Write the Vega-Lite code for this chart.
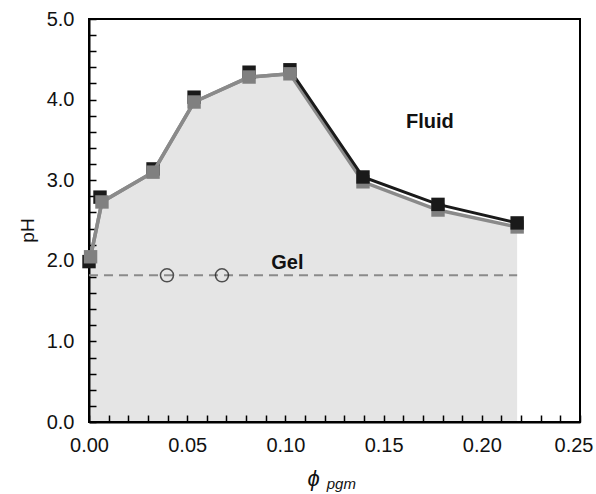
{
  "$schema": "https://vega.github.io/schema/vega-lite/v6.json",
  "width": 491,
  "height": 403,
  "autosize": {"type": "none"},
  "padding": {"left": 89, "top": 19, "right": 16, "bottom": 72},
  "background": "white",
  "config": {
    "view": {"stroke": "#000", "strokeWidth": 2},
    "axis": {
      "domainColor": "#000", "domainWidth": 2,
      "tickColor": "#000", "tickWidth": 1.5,
      "labelFont": "Liberation Sans", "labelFontSize": 20, "labelColor": "#111",
      "titleFont": "Liberation Sans", "titleColor": "#111", "titleFontWeight": "normal",
      "grid": false
    }
  },
  "datasets": {
    "pts": [
      {"phi": 0.0008, "pH": 2.05, "series": "grey"},
      {"phi": 0.0066, "pH": 2.73, "series": "grey"},
      {"phi": 0.0326, "pH": 3.10, "series": "grey"},
      {"phi": 0.0535, "pH": 3.97, "series": "grey"},
      {"phi": 0.0815, "pH": 4.28, "series": "grey"},
      {"phi": 0.1023, "pH": 4.32, "series": "grey"},
      {"phi": 0.1395, "pH": 2.98, "series": "grey"},
      {"phi": 0.1777, "pH": 2.63, "series": "grey"},
      {"phi": 0.2180, "pH": 2.42, "series": "grey"},
      {"phi": 0.0, "pH": 1.99, "series": "black"},
      {"phi": 0.0056, "pH": 2.79, "series": "black"},
      {"phi": 0.0326, "pH": 3.14, "series": "black"},
      {"phi": 0.0535, "pH": 4.03, "series": "black"},
      {"phi": 0.0815, "pH": 4.34, "series": "black"},
      {"phi": 0.1023, "pH": 4.37, "series": "black"},
      {"phi": 0.1395, "pH": 3.04, "series": "black"},
      {"phi": 0.1777, "pH": 2.70, "series": "black"},
      {"phi": 0.2180, "pH": 2.47, "series": "black"}
    ],
    "gel": [
      {"phi": 0.0397, "pH": 1.82},
      {"phi": 0.0677, "pH": 1.82}
    ],
    "gelline": [{"phi0": 0.0, "phi1": 0.218, "pH": 1.82}],
    "labels": [
      {"phi": 0.101, "pH": 1.97, "label": "Gel"},
      {"phi": 0.1736, "pH": 3.72, "label": "Fluid"}
    ],
    "sub": [{"phi": 0.1285, "pH": -0.77, "label": "pgm"}]
  },
  "encoding": {
    "x": {
      "field": "phi", "type": "quantitative",
      "scale": {"domain": [0, 0.25], "nice": false, "zero": false},
      "axis": {
        "values": [0,0.01,0.02,0.03,0.04,0.05,0.06,0.07,0.08,0.09,0.1,0.11,0.12,0.13,0.14,0.15,0.16,0.17,0.18,0.19,0.2,0.21,0.22,0.23,0.24,0.25],
        "format": ".2f",
        "labelExpr": "abs(datum.value*20 - round(datum.value*20)) < 0.001 ? datum.label : ''",
        "tickSize": -7,
        "labelPadding": 20,
        "labelAlign": {"condition": {"test": "datum.value > 0.245", "value": "right"}, "value": "center"},
        "labelOffset": {"condition": {"test": "datum.value > 0.245", "value": 13}, "value": 0},
        "labelFlush": false,
        "labelOverlap": false,
        "title": "ϕ",
        "titleFontStyle": "italic",
        "titleFontSize": 22,
        "titleX": 224,
        "titleY": 56,
        "titleBaseline": "middle"
      }
    },
    "y": {
      "field": "pH", "type": "quantitative",
      "scale": {"domain": [0, 5], "nice": false},
      "axis": {
        "values": [0,0.2,0.4,0.6,0.8,1,1.2,1.4,1.6,1.8,2,2.2,2.4,2.6,2.8,3,3.2,3.4,3.6,3.8,4,4.2,4.4,4.6,4.8,5],
        "format": ".1f",
        "labelExpr": "abs(datum.value - round(datum.value)) < 0.001 ? datum.label : ''",
        "tickSize": -7,
        "labelPadding": 22,
        "labelFlush": false,
        "labelOverlap": false,
        "title": "pH",
        "titleFontSize": 19,
        "titlePadding": 9,
        "titleY": 211
      }
    }
  },
  "layer": [
    {
      "data": {"name": "pts"},
      "transform": [{"filter": "datum.series === 'grey'"}],
      "mark": {"type": "area", "color": "#000000", "fillOpacity": 0.1, "opacity": 1},
      "encoding": {}
    },
    {
      "data": {"name": "gelline"},
      "mark": {"type": "rule", "color": "#8a8a8a", "strokeWidth": 2, "strokeDash": [9, 6]},
      "encoding": {
        "x": {"field": "phi0", "type": "quantitative"},
        "x2": {"field": "phi1"},
        "y": {"field": "pH", "type": "quantitative"}
      }
    },
    {
      "data": {"name": "gel"},
      "mark": {"type": "point", "shape": "circle", "filled": false, "stroke": "#111", "strokeWidth": 1.5, "size": 170}
    },
    {
      "data": {"name": "pts"},
      "transform": [{"filter": "datum.series === 'grey'"}],
      "mark": {"type": "line", "color": "#8a8a8a", "strokeWidth": 3.5},
      "encoding": {}
    },
    {
      "data": {"name": "pts"},
      "transform": [{"filter": "datum.series === 'grey' && datum.phi > 0.105"}],
      "mark": {"type": "square", "color": "#808080", "opacity": 1, "size": 180},
      "encoding": {}
    },
    {
      "data": {"name": "pts"},
      "transform": [{"filter": "datum.series === 'black' && datum.phi > 0.1"}],
      "mark": {"type": "line", "color": "#1a1a1a", "strokeWidth": 3},
      "encoding": {}
    },
    {
      "data": {"name": "pts"},
      "transform": [{"filter": "datum.series === 'black'"}],
      "mark": {"type": "square", "color": "#1a1a1a", "opacity": 1, "size": 180},
      "encoding": {}
    },
    {
      "data": {"name": "pts"},
      "transform": [{"filter": "datum.series === 'grey' && datum.phi < 0.105"}],
      "mark": {"type": "line", "color": "#8a8a8a", "strokeWidth": 3.5},
      "encoding": {}
    },
    {
      "data": {"name": "pts"},
      "transform": [{"filter": "datum.series === 'grey' && datum.phi < 0.105"}],
      "mark": {"type": "square", "color": "#808080", "opacity": 1, "size": 180},
      "encoding": {}
    },
    {
      "data": {"name": "labels"},
      "mark": {"type": "text", "font": "Liberation Sans", "fontWeight": "bold", "fontSize": 20, "color": "#111", "align": "center", "baseline": "middle"},
      "encoding": {"text": {"field": "label"}}
    },
    {
      "data": {"name": "sub"},
      "mark": {"type": "text", "font": "Liberation Sans", "fontStyle": "italic", "fontSize": 15, "color": "#111", "align": "center", "baseline": "middle"},
      "encoding": {"text": {"field": "label"}}
    }
  ]
}
